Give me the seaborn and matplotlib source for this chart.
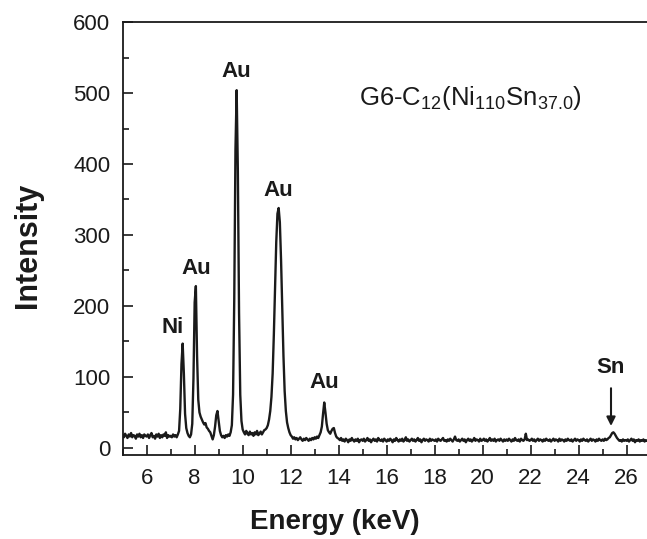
import matplotlib
matplotlib.use("Agg")
import matplotlib.pyplot as plt
import seaborn as sns
import numpy as np

# EDS spectrum, channel width 0.05 keV starting at 5.00 keV
start_kev = 5.0
step_kev = 0.05
counts = [
    # 5.00 - 5.95
    18, 15, 20, 17, 14, 19, 16, 21, 15, 18, 17, 13, 19, 16, 20, 15, 18, 14, 19, 17,
    # 6.00 - 6.95
    16, 19, 14, 18, 21, 15, 17, 13, 19, 16, 20, 14, 18, 15, 19, 17, 22, 14, 18, 16,
    # 7.00 - 7.95
    17, 15, 19, 16, 18, 15, 19, 24, 55, 118, 147, 105, 48, 28, 21, 17, 15, 19, 34, 98,
    # 8.00 - 8.95
    205, 228, 130, 68, 50, 44, 40, 36, 33, 35, 29, 27, 24, 22, 17, 12, 18, 30, 46, 52,
    # 9.00 - 9.95
    38, 24, 18, 15, 17, 14, 18, 16, 19, 17, 22, 32, 75, 210, 420, 504, 390, 190, 75, 38,
    # 10.00 - 10.95
    26, 22, 19, 24, 20, 18, 23, 19, 21, 17, 22, 19, 24, 18, 20, 23, 19, 22, 25, 26,
    # 11.00 - 11.95
    28, 32, 40, 52, 72, 105, 160, 225, 290, 330, 338, 318, 265, 195, 130, 80, 52, 36, 28, 22,
    # 12.00 - 12.95
    18, 16, 13, 15, 12, 14, 11, 13, 15, 12, 10, 13, 11, 14, 12, 10, 13, 11, 14, 12,
    # 13.00 - 13.95
    15, 13, 16, 14, 18, 22, 30, 48, 64, 50, 34, 25, 22, 20, 24, 27, 28, 21, 16, 14,
    # 14.00 - 14.95
    13, 11, 14, 10, 12, 9, 13, 11, 8, 12, 10, 14, 11, 9, 12, 10, 13, 8, 11, 12,
    # 15.00 - 15.95
    10, 13, 9, 11, 14, 10, 12, 8, 11, 13, 10, 12, 9, 14, 11, 10, 12, 9, 13, 11,
    # 16.00 - 16.95
    9, 12, 10, 13, 11, 8, 12, 10, 14, 11, 9, 12, 10, 13, 9, 11, 15, 10, 12, 9,
    # 17.00 - 17.95
    11, 13, 10, 12, 9, 11, 14, 10, 12, 8, 11, 13, 10, 12, 11, 9, 13, 10, 12, 11,
    # 18.00 - 18.95
    10, 12, 9, 13, 11, 10, 12, 14, 10, 11, 9, 12, 10, 13, 11, 9, 12, 16, 11, 10,
    # 19.00 - 19.95
    12, 9, 11, 13, 10, 12, 8, 11, 13, 10, 12, 9, 11, 14, 10, 12, 11, 9, 13, 10,
    # 20.00 - 20.95
    11, 13, 10, 12, 9, 11, 14, 10, 12, 10, 13, 9, 11, 12, 10, 13, 11, 9, 12, 10,
    # 21.00 - 21.95
    12, 10, 13, 11, 9, 12, 10, 14, 11, 10, 12, 9, 13, 11, 10, 12, 20, 11, 12, 10,
    # 22.00 - 22.95
    11, 13, 10, 12, 9, 11, 13, 10, 12, 11, 9, 12, 10, 13, 11, 10, 12, 9, 11, 13,
    # 23.00 - 23.95
    10, 12, 11, 9, 13, 10, 12, 11, 9, 12, 10, 13, 11, 10, 12, 9, 11, 13, 10, 12,
    # 24.00 - 24.95
    11, 9, 12, 10, 13, 11, 10, 12, 9, 11, 13, 10, 12, 11, 9, 12, 10, 13, 11, 10,
    # 25.00 - 25.95
    12, 10, 13, 11, 12, 14, 15, 18, 21, 22, 20, 17, 14, 12, 10, 11, 9, 12, 10, 11,
    # 26.00 - 26.85
    10, 12, 9, 11, 13, 10, 12, 8, 11, 10, 12, 9, 11, 10, 12, 9, 11, 10,
]
energy = start_kev + step_kev * np.arange(len(counts))

# peak labels
peak_names = ["Ni", "Au", "Au", "Au", "Au", "Sn"]
peak_x = [7.08, 8.08, 9.75, 11.5, 13.42, 25.35]
peak_y = [169, 253, 530, 363, 92, 113]

sns.set_style("ticks")
plt.rcParams['font.family'] = ['Liberation Sans', 'DejaVu Sans']
plt.rcParams['mathtext.default'] = 'regular'

ink = '#1a1a1a'
fig = plt.figure(figsize=(6.47, 5.39), dpi=100)
ax = fig.add_axes([0.1896, 0.1558, 0.8104, 0.8033])

sns.lineplot(x=energy, y=counts, ax=ax, color=ink, linewidth=1.7, estimator=None)

ax.set_xlim(5, 26.85)
ax.set_ylim(-10, 600)
ax.set_xticks(range(6, 27, 2))
ax.set_xticks(range(5, 27, 1), minor=True)
ax.set_yticks(range(0, 601, 100))
ax.set_yticks(range(0, 601, 50), minor=True)
ax.tick_params(axis='both', which='both', direction='in', top=False, right=False,
               labelsize=16, width=1.2, color=ink, labelcolor=ink)
ax.tick_params(which='major', length=7, pad=9)
ax.tick_params(which='minor', length=4)
for side in ['left', 'bottom', 'top']:
    ax.spines[side].set_linewidth(1.3)
    ax.spines[side].set_color(ink)
ax.spines['right'].set_visible(False)

ax.set_xlabel('Energy (keV)', fontsize=20, fontweight='bold', color=ink)
ax.set_ylabel('Intensity', fontsize=22, fontweight='bold', color=ink)
ax.xaxis.set_label_coords(0.405, -0.125)
ax.yaxis.set_label_coords(-0.152, 0.485)

for name, x, y in zip(peak_names, peak_x, peak_y):
    ax.text(x, y, name, fontsize=16, fontweight='bold', ha='center', va='center', color=ink)

ax.annotate('', xy=(25.35, 27), xytext=(25.35, 88),
            arrowprops=dict(arrowstyle='-|>', color=ink, lw=1.5, mutation_scale=13))

ax.text(14.83, 493, r'G6-C$_{12}$(Ni$_{110}$Sn$_{37.0}$)', fontsize=18.5,
        ha='left', va='center', color=ink)

fig.savefig('out.png', dpi=100)
